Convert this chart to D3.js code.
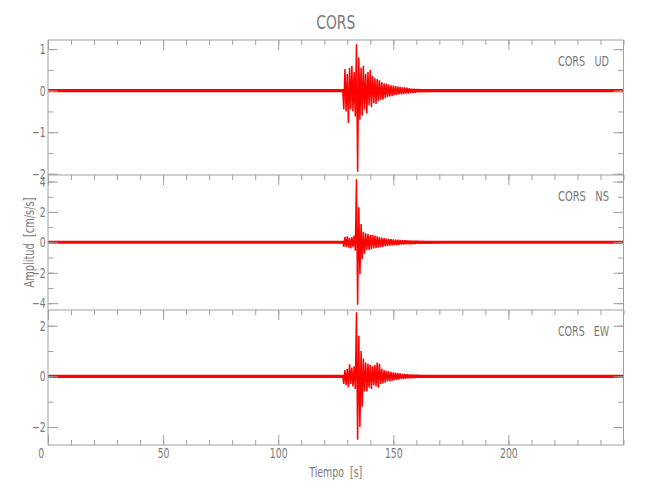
<!DOCTYPE html>
<html>
<head>
<meta charset="utf-8">
<script src="https://cdn.jsdelivr.net/npm/d3@7"></script>
<style>
  html, body { margin: 0; padding: 0; background: #fff; }
  svg text { font-family: "Liberation Sans Narrow", "DejaVu Sans Condensed", "Liberation Sans", sans-serif; fill: #7a7a7a; }
</style>
</head>
<body>
<svg id="chart" width="650" height="500"></svg>
<script>
// ---------------- data ----------------
const title = "CORS";
const station = "CORS";
const channels = ["UD", "NS", "EW"];
const xLabel = "Tiempo [s]";
const yLabel = "Amplitud [cm/s/s]";
const xDomain = [0, 250];
const xMajorTicks = [0, 50, 100, 150, 200];
const xMinorStep = 10;

const yDomains = [[-2.03, 1.22], [-4.45, 4.43], [-2.71, 2.62]];
const yMajorTicks = [[1, 0, -1, -2], [4, 2, 0, -2, -4], [2, 0, -2]];
const yMinorStep = [0.5, 1, 1];

const noiseLevels = [0.04, 0.1, 0.06];

// event window sampling (seconds)
const eventStart = 128, eventEnd = 170, eventStep = 0.5;

const udValues = [
  0.03, -0.45, 0.52, -0.5, 0.4, -0.78, 0.55, -0.45, 0.6, -0.5, 0.45, -0.62,
  1.12, -1.95, 0.8, -0.7, 0.55, -0.6, 0.6, -0.45, 0.4, -0.55, 0.45, -0.35,
  0.5, -0.4, 0.35, -0.3, 0.3, -0.32, 0.28, -0.25, 0.25, -0.22, 0.2, -0.22,
  0.18, -0.18, 0.17, -0.15, 0.15, -0.14, 0.13, -0.13, 0.12, -0.11, 0.11, -0.1,
  0.1, -0.09, 0.09, -0.09, 0.08, -0.08, 0.08, -0.07, 0.07, -0.07, 0.06, -0.06,
  0.05, -0.05, 0.05, -0.05, 0.04, -0.04, 0.04, -0.04, 0.03, -0.03, 0.03, -0.03,
  0.03, -0.03, 0.03, -0.03, 0.02, -0.02, 0.02, -0.02, 0.02, -0.02, 0.02, -0.02,
  0.0
];
const nsValues = [
  0.1, -0.3, 0.35, -0.3, 0.4, -0.35, 0.3, -0.4, 0.35, -0.3, 0.45, -0.55,
  4.15, -4.1, 2.3, -2.1, 1.2, -1.1, 0.7, -0.75, 0.6, -0.5, 0.55, -0.5,
  0.5, -0.45, 0.5, -0.4, 0.45, -0.38, 0.4, -0.35, 0.35, -0.32, 0.3, -0.3,
  0.28, -0.26, 0.25, -0.24, 0.23, -0.22, 0.22, -0.2, 0.2, -0.19, 0.18, -0.18,
  0.17, -0.16, 0.16, -0.15, 0.15, -0.14, 0.14, -0.13, 0.13, -0.12, 0.12, -0.12,
  0.11, -0.11, 0.1, -0.1, 0.1, -0.09, 0.09, -0.09, 0.08, -0.08, 0.08, -0.08,
  0.07, -0.07, 0.07, -0.07, 0.06, -0.06, 0.06, -0.06, 0.05, -0.05, 0.05, -0.05,
  0.0
];
const ewValues = [
  0.05, -0.3, 0.25, -0.35, 0.3, -0.43, 0.48, -0.3, 0.35, -0.4, 0.4, -0.5,
  2.53, -2.5, 1.6, -2.0, 1.0, -1.2, 0.7, -0.6, 0.55, -0.6, 0.5, -0.45,
  0.45, -0.5, 0.4, -0.35, 0.45, -0.4, 0.55, -0.45, 0.5, -0.3, 0.3, -0.28,
  0.25, -0.25, 0.22, -0.2, 0.2, -0.2, 0.18, -0.17, 0.16, -0.15, 0.15, -0.14,
  0.13, -0.12, 0.12, -0.11, 0.1, -0.1, 0.1, -0.09, 0.09, -0.08, 0.08, -0.08,
  0.07, -0.07, 0.06, -0.06, 0.06, -0.05, 0.05, -0.05, 0.05, -0.04, 0.04, -0.04,
  0.04, -0.04, 0.04, -0.03, 0.03, -0.03, 0.03, -0.03, 0.03, -0.03, 0.03, -0.03,
  0.0
];
const seriesValues = [udValues, nsValues, ewValues];

// ---------------- layout ----------------
const W = 650, H = 500;
const plotL = 48, plotR = 623.5, plotT = 40, panelH = 135;
const axisColor = "#a0a0a0";
const textColor = "#7a7a7a";
const traceColor = "#ff0000";
const narrow = 0.74; // horizontal squeeze of the tick-label glyphs

const svg = d3.select("#chart");
svg.append("rect").attr("width", W).attr("height", H).attr("fill", "#fff");

const x = d3.scaleLinear().domain(xDomain).range([plotL, plotR]);
const xMinor = d3.range(xDomain[0], xDomain[1] + 0.001, xMinorStep);
const eventTimes = d3.range(eventStart, eventEnd + 0.001, eventStep);

function styleAxis(g) {
  g.select(".domain").remove();
  g.selectAll(".tick line").attr("stroke", axisColor).attr("stroke-width", 1);
  g.selectAll(".tick text").attr("fill", textColor);
}

channels.forEach((ch, i) => {
  const pTop = plotT + i * panelH;
  const pBot = pTop + panelH;
  const y = d3.scaleLinear().domain(yDomains[i]).range([pBot, pTop]);
  const g = svg.append("g");

  const clipId = "clip" + i;
  svg.append("clipPath").attr("id", clipId)
    .append("rect").attr("x", plotL).attr("y", pTop)
    .attr("width", plotR - plotL).attr("height", panelH);

  const traceG = g.append("g").attr("clip-path", `url(#${clipId})`);

  // noise band over the full record
  const band = d3.area()
    .x(d => x(d))
    .y0(() => y(-noiseLevels[i]))
    .y1(() => y(noiseLevels[i]));
  traceG.append("path").datum(xDomain)
    .attr("d", band).attr("fill", traceColor);

  // event waveform
  const vals = seriesValues[i];
  const pts = eventTimes.slice(0, vals.length).map((t, k) => ({ t, v: vals[k] }));
  const line = d3.line().x(d => x(d.t)).y(d => y(d.v));
  traceG.append("path").datum(pts)
    .attr("d", line)
    .attr("fill", "none")
    .attr("stroke", traceColor)
    .attr("stroke-width", 1.5)
    .attr("stroke-linejoin", "bevel");

  // frame lines
  g.append("line").attr("x1", plotL).attr("x2", plotL).attr("y1", pTop).attr("y2", pBot).attr("stroke", axisColor);
  g.append("line").attr("x1", plotR).attr("x2", plotR).attr("y1", pTop).attr("y2", pBot).attr("stroke", axisColor);
  g.append("line").attr("x1", plotL).attr("x2", plotR).attr("y1", pTop).attr("y2", pTop).attr("stroke", axisColor);

  // top ticks (inward)
  g.append("g").attr("transform", `translate(0,${pTop})`)
    .call(d3.axisTop(x).tickValues(xMinor).tickSize(-5).tickSizeOuter(0).tickFormat(""))
    .call(styleAxis);
  g.append("g").attr("transform", `translate(0,${pTop})`)
    .call(d3.axisTop(x).tickValues(xMajorTicks).tickSize(-10).tickSizeOuter(0).tickFormat(""))
    .call(styleAxis);

  // y minor ticks
  const yMin = d3.range(Math.ceil(yDomains[i][0] / yMinorStep[i]) * yMinorStep[i], yDomains[i][1], yMinorStep[i]);
  g.append("g").attr("transform", `translate(${plotL},0)`)
    .call(d3.axisLeft(y).tickValues(yMin).tickSize(-5.5).tickSizeOuter(0).tickFormat(""))
    .call(styleAxis);
  g.append("g").attr("transform", `translate(${plotR},0)`)
    .call(d3.axisRight(y).tickValues(yMin).tickSize(-5.5).tickSizeOuter(0).tickFormat(""))
    .call(styleAxis);
  // y major ticks with labels
  g.append("g").attr("transform", `translate(${plotL},0)`)
    .call(d3.axisLeft(y).tickValues(yMajorTicks[i]).tickSize(-10).tickSizeOuter(0).tickPadding(3).tickFormat(d3.format("d")))
    .call(styleAxis)
    .call(a => a.selectAll(".tick text")
      .attr("font-size", 14).attr("font-family", null)
      .attr("transform", `scale(${narrow},1)`));
  g.append("g").attr("transform", `translate(${plotR},0)`)
    .call(d3.axisRight(y).tickValues(yMajorTicks[i]).tickSize(-10).tickSizeOuter(0).tickFormat(""))
    .call(styleAxis);

  // channel label
  g.append("text")
    .attr("x", 609).attr("y", pTop + 26)
    .attr("text-anchor", "end")
    .attr("font-size", 14)
    .attr("xml:space", "preserve")
    .attr("textLength", 51).attr("lengthAdjust", "spacingAndGlyphs")
    .text(station + "   " + ch);

  // bottom axis on the last panel
  if (i === channels.length - 1) {
    g.append("line").attr("x1", plotL).attr("x2", plotR).attr("y1", pBot).attr("y2", pBot).attr("stroke", axisColor);
    g.append("g").attr("transform", `translate(0,${pBot})`)
      .call(d3.axisBottom(x).tickValues(xMinor).tickSize(-5).tickSizeOuter(0).tickFormat(""))
      .call(styleAxis);
    g.append("g").attr("transform", `translate(0,${pBot})`)
      .call(d3.axisBottom(x).tickValues(xMajorTicks).tickSize(-10).tickSizeOuter(0).tickPadding(3).tickFormat(d3.format("d")))
      .call(styleAxis)
      .call(a => a.selectAll(".tick text")
        .attr("font-size", 14).attr("font-family", null)
        .attr("transform", `scale(${narrow},1)`)
        .filter(d => d === xDomain[0])
        .attr("dx", -10));
  }
});

// titles
svg.append("text").attr("x", (plotL + plotR) / 2).attr("y", 29)
  .attr("text-anchor", "middle").attr("font-size", 19)
  .attr("textLength", 39).attr("lengthAdjust", "spacingAndGlyphs")
  .text(title);
svg.append("text").attr("x", (plotL + plotR) / 2).attr("y", 477)
  .attr("text-anchor", "middle").attr("font-size", 14)
  .attr("xml:space", "preserve")
  .attr("textLength", 53).attr("lengthAdjust", "spacingAndGlyphs")
  .text(xLabel.replace(" ", "  "));
svg.append("text")
  .attr("transform", `translate(34,${plotT + 1.5 * panelH}) rotate(-90)`)
  .attr("text-anchor", "middle").attr("font-size", 14)
  .attr("xml:space", "preserve")
  .attr("textLength", 90).attr("lengthAdjust", "spacingAndGlyphs")
  .text(yLabel.replace(" ", "  "));
</script>
</body>
</html>
